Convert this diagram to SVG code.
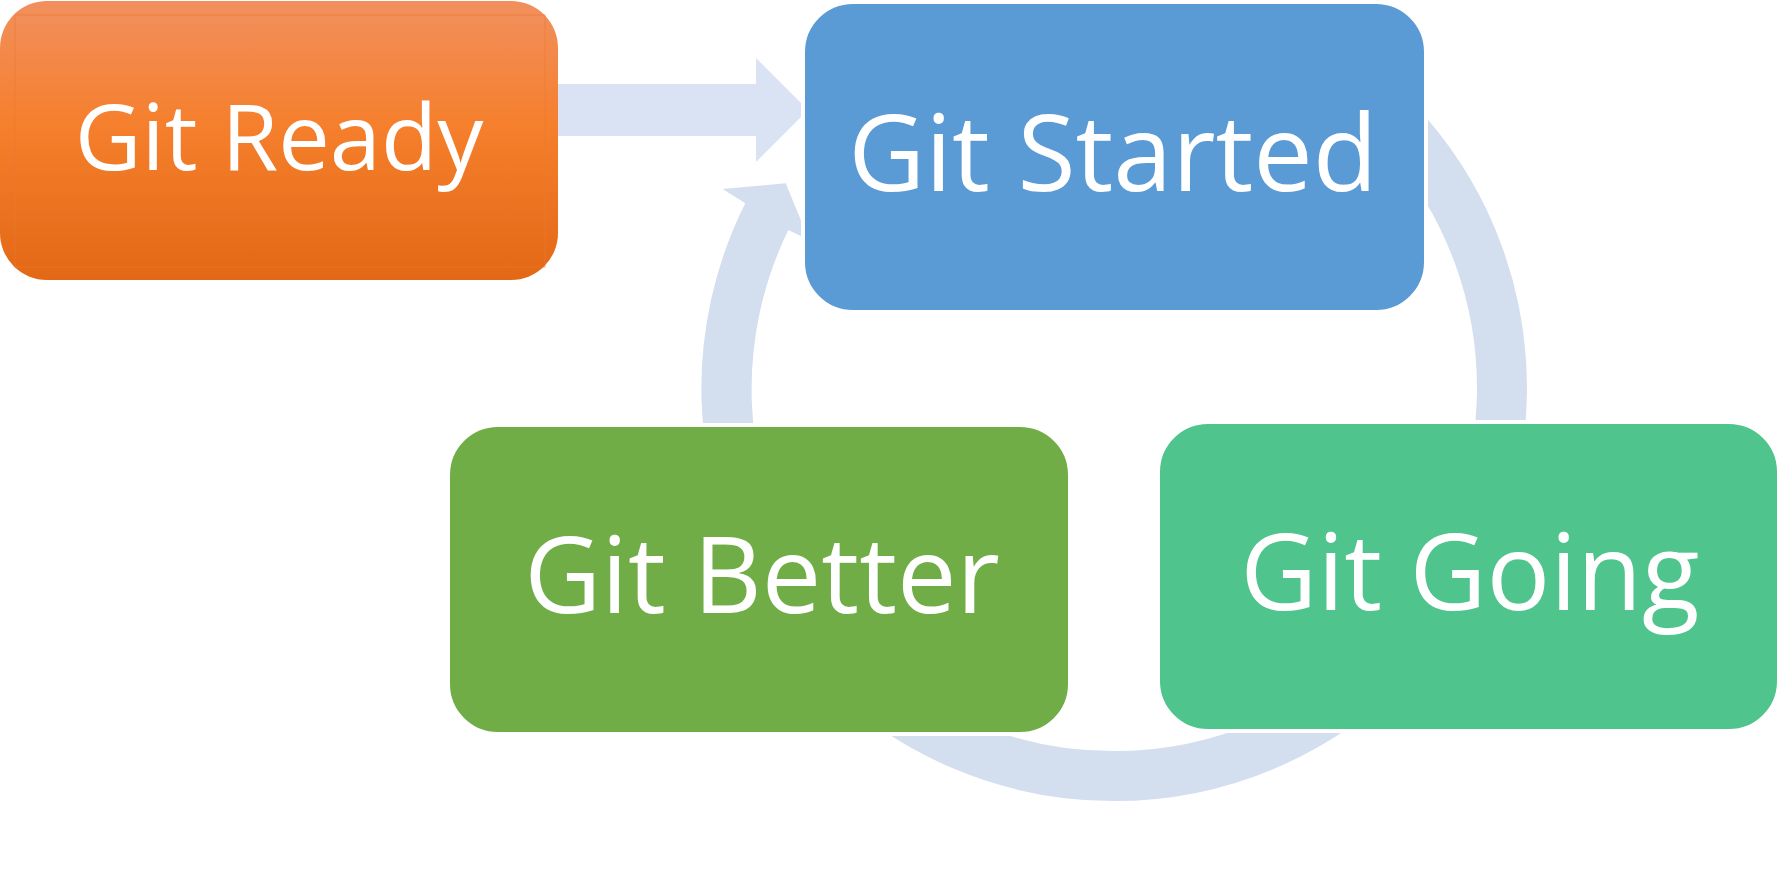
<svg xmlns="http://www.w3.org/2000/svg" width="1782" height="890" viewBox="0 0 1782 890">
<defs>
<linearGradient id="gOrange" x1="0" y1="0" x2="0" y2="1">
<stop offset="0" stop-color="#F1905E"/>
<stop offset="0.45" stop-color="#F57F2C"/>
<stop offset="1" stop-color="#E36816"/>
</linearGradient>
<style>
.lbl{font-family:"Open Sans","Noto Sans","Liberation Sans",sans-serif;fill:#FFFFFF;text-anchor:middle}
.big{font-size:106px}
.small{font-size:92px}
.ring{fill:none;stroke:#D3DEEF;stroke-width:50}
.node{stroke:#FFFFFF;stroke-width:4}
</style>
</defs>
<rect width="1782" height="890" fill="#FFFFFF"/>
<g id="connectors">
<polygon id="arrow-ready-started" points="550,84 756,84 756,58 808,110 756,162 756,136 550,136" fill="#DAE3F3"/>
<path id="arc-started-going" class="ring" d="M 1308 52 A 388 388 0 0 1 1478.6 520.7"/>
<path id="arc-going-better" class="ring" d="M 1388.4 662.4 A 388 388 0 0 1 839.6 662.4"/>
<path id="arc-better-started" fill="#D3DEEF" d="M 756.3 594.5 A 413 413 0 0 1 745.3 203.3 L 722.7 189 L 785.7 183.3 L 809 240 L 788.3 230 A 363 363 0 0 0 799.6 569.5 Z"/>
</g>
<g id="node-git-ready">
<rect x="0" y="1" width="558" height="279" rx="47" ry="47" fill="url(#gOrange)"/>
<rect x="15" y="15" width="530" height="252" fill="none" stroke="#EC7A32" stroke-opacity="0.6" stroke-width="1"/>
<text class="lbl small" x="279" y="170">Git Ready</text>
</g>
<g id="node-git-started">
<rect class="node" x="803" y="2" width="623" height="310" rx="50" ry="50" fill="#5B9BD5"/>
<text class="lbl big" x="1113" y="191">Git Started</text>
</g>
<g id="node-git-better">
<rect class="node" x="448" y="425" width="622" height="309" rx="50" ry="50" fill="#70AD47"/>
<text class="lbl big" x="762" y="613">Git Better</text>
</g>
<g id="node-git-going">
<rect class="node" x="1158" y="422" width="621" height="309" rx="50" ry="50" fill="#4FC48C"/>
<text class="lbl big" x="1470" y="610">Git Going</text>
</g>
</svg>
